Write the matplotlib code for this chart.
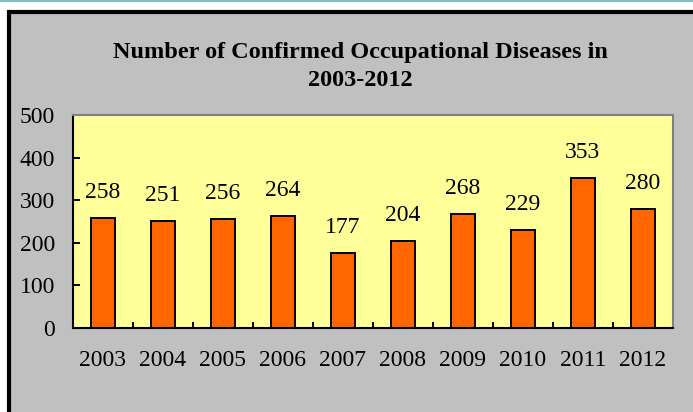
import matplotlib
matplotlib.use("Agg")
import matplotlib.pyplot as plt
from matplotlib.patches import Rectangle
import numpy as np

years = ["2003", "2004", "2005", "2006", "2007", "2008", "2009", "2010", "2011", "2012"]
cases = [258, 251, 256, 264, 177, 204, 268, 229, 353, 280]
yticks = [0, 100, 200, 300, 400, 500]
title_lines = ["Number of Confirmed Occupational Diseases in", "2003-2012"]

W, H = 693, 412
fig = plt.figure(figsize=(W / 100, H / 100), dpi=100, facecolor="white")
serif = ["Liberation Serif", "DejaVu Serif"]

# outer frame (gray panel with thick black border, cropped at right/bottom)
fig.patches.append(Rectangle((8.5 / W, -0.1), 1.2, (H - 12) / H + 0.1,
                             transform=fig.transFigure, facecolor="#c0c0c0",
                             edgecolor="black", linewidth=3, zorder=-10))
fig.patches.append(Rectangle((0, (H - 2) / H), 1, 2 / H,
                             transform=fig.transFigure, facecolor="#80c0c0",
                             edgecolor="none", zorder=-9))

ax = fig.add_axes([73 / W, (H - 328) / H, 600 / W, 213 / H])
ax.set_zorder(5)
ax.set_facecolor("#ffff99")
x = np.arange(len(years))
ax.bar(x, cases, width=0.4, color="#ff6600", edgecolor="black", linewidth=1.4, zorder=2)
for xi, v in zip(x, cases):
    ax.annotate(str(v), (xi, v), xytext=(0, 14.4), textcoords="offset points",
                ha="center", va="baseline", fontsize=17, family=serif, color="black")

ax.set_xlim(-0.5, len(years) - 0.5)
ax.set_ylim(0, 500)
ax.set_yticks(yticks)
ax.set_yticklabels([str(t) for t in yticks], family=serif, fontsize=17)
ax.set_xticks(x)
ax.set_xticklabels(years, family=serif, fontsize=17)
ax.set_xticks(np.arange(-0.5, len(years)), minor=True)
ax.tick_params(axis="y", direction="in", length=5, width=1.4, pad=13, colors="black")
ax.tick_params(axis="x", which="major", length=0, pad=15.5)
ax.tick_params(axis="x", which="minor", direction="in", length=4, width=1.4)
for s in ["left", "bottom"]:
    ax.spines[s].set_color("black")
    ax.spines[s].set_linewidth(1.5)
for s in ["top", "right"]:
    ax.spines[s].set_color("#808080")
    ax.spines[s].set_linewidth(1.5)

fig.text(360 / W, 1 - 58 / H, title_lines[0], ha="center", va="baseline",
         fontsize=17.5, fontweight="bold", family=serif)
fig.text(360 / W, 1 - 86 / H, title_lines[1], ha="center", va="baseline",
         fontsize=17.5, fontweight="bold", family=serif)

fig.savefig("out.png", dpi=100, facecolor="white")
